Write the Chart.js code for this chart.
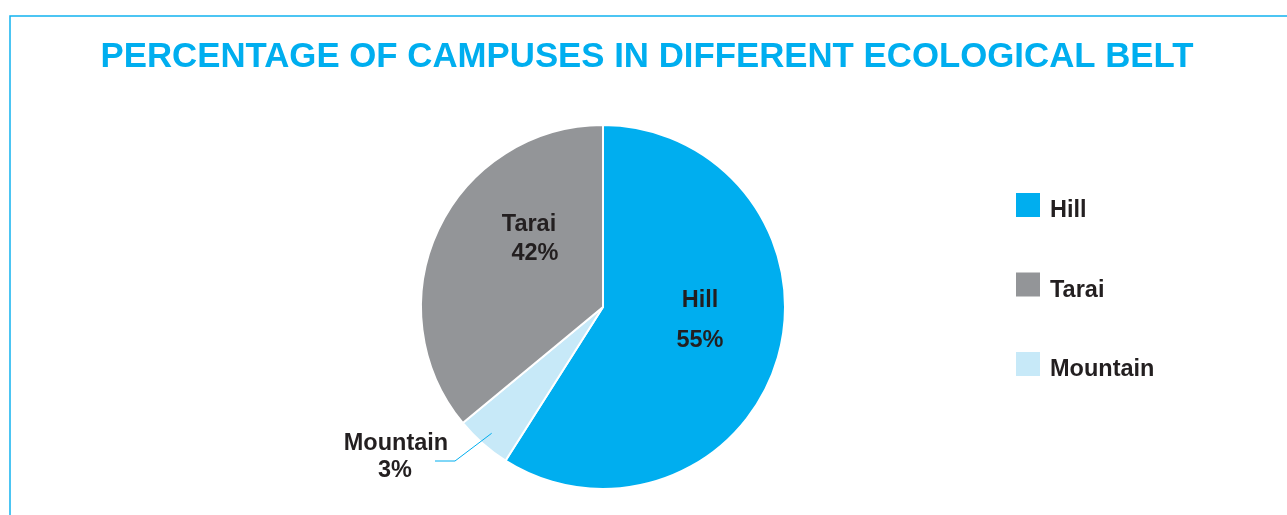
<!DOCTYPE html>
<html>
<head>
<meta charset="utf-8">
<title>Campuses by ecological belt</title>
<script src="https://cdn.jsdelivr.net/npm/chart.js@4/dist/chart.umd.min.js"></script>
<style>
  html, body { margin: 0; padding: 0; background: #fff; }
  #wrap { position: relative; width: 1287px; height: 515px; }
</style>
</head>
<body>
<div id="wrap"><canvas id="belt-chart" width="1287" height="515"></canvas></div>
<script>
// ==================== DATA ====================
const chartTitle = 'PERCENTAGE OF CAMPUSES IN DIFFERENT ECOLOGICAL BELT';
// slice order clockwise from 12 o'clock
const belts = ['Hill', 'Mountain', 'Tarai'];
const sliceShares = [59, 5, 36];            // sizes as drawn in the picture
const printedShares = ['55%', '3%', '42%']; // percentages printed on the picture
const legendOrder = ['Hill', 'Tarai', 'Mountain'];

// ==================== STYLE ====================
const C = { hill: '#00aeef', tarai: '#939598', mountain: '#c7e9f8', text: '#231f20', frame: '#12b2ef' };
const beltColors = [C.hill, C.mountain, C.tarai];
const FONT = '"Liberation Sans", Arial, sans-serif';

// label placement relative to pie centre (px)
const labelLayout = {
  Hill:     { lines: [[97, 0], [97, 40]] },
  Tarai:    { lines: [[-74, -76], [-68, -47]] },
  Mountain: { lines: [[-207, 143], [-208, 170]], leader: { r: 0.925, elbow: [-148, 154], end: [-168, 154] } }
};

const decorPlugin = {
  id: 'decor',
  beforeDraw(chart) {
    const ctx = chart.ctx;
    ctx.save();
    ctx.strokeStyle = C.frame;
    ctx.lineWidth = 1.5;
    ctx.beginPath();
    ctx.moveTo(10, chart.height + 5);
    ctx.lineTo(10, 16);
    ctx.lineTo(chart.width + 5, 16);
    ctx.stroke();
    // title
    ctx.fillStyle = C.hill;
    ctx.font = 'bold 34.8px ' + FONT;
    ctx.textAlign = 'center';
    ctx.textBaseline = 'alphabetic';
    ctx.fillText(chartTitle, 647, 66.5);
    ctx.restore();
  },
  afterDraw(chart) {
    const ctx = chart.ctx;
    const meta = chart.getDatasetMeta(0);
    ctx.save();
    ctx.font = 'bold 23.5px ' + FONT;
    ctx.textAlign = 'center';
    ctx.textBaseline = 'alphabetic';
    ctx.fillStyle = C.text;
    meta.data.forEach((arc, i) => {
      const name = belts[i];
      const lay = labelLayout[name];
      const texts = [name, printedShares[i]];
      lay.lines.forEach((p, k) => ctx.fillText(texts[k], arc.x + p[0], arc.y + p[1]));
      if (lay.leader) {
        const mid = (arc.startAngle + arc.endAngle) / 2;
        const sx = arc.x + Math.cos(mid) * arc.outerRadius * lay.leader.r;
        const sy = arc.y + Math.sin(mid) * arc.outerRadius * lay.leader.r;
        ctx.strokeStyle = C.hill;
        ctx.lineWidth = 1;
        ctx.beginPath();
        ctx.moveTo(sx, sy);
        ctx.lineTo(arc.x + lay.leader.elbow[0], arc.y + lay.leader.elbow[1]);
        ctx.lineTo(arc.x + lay.leader.end[0], arc.y + lay.leader.end[1]);
        ctx.stroke();
      }
    });
    // legend
    ctx.textAlign = 'left';
    legendOrder.forEach((name, k) => {
      const idx = belts.indexOf(name);
      const top = 193 + k * 79.5;
      ctx.fillStyle = beltColors[idx];
      ctx.fillRect(1016, top, 24, 24);
      ctx.fillStyle = C.text;
      ctx.fillText(name, 1050, top + 24);
    });
    ctx.restore();
  }
};

new Chart(document.getElementById('belt-chart').getContext('2d'), {
  type: 'pie',
  data: {
    labels: belts,
    datasets: [{
      data: sliceShares,
      backgroundColor: beltColors,
      borderColor: '#ffffff',
      borderWidth: 2,
      hoverOffset: 0
    }]
  },
  options: {
    responsive: false,
    animation: false,
    layout: { padding: { left: 300, right: 381, top: 124, bottom: 25 } },
    plugins: { legend: { display: false }, title: { display: false }, tooltip: { enabled: false } }
  },
  plugins: [decorPlugin]
});
</script>
</body>
</html>
